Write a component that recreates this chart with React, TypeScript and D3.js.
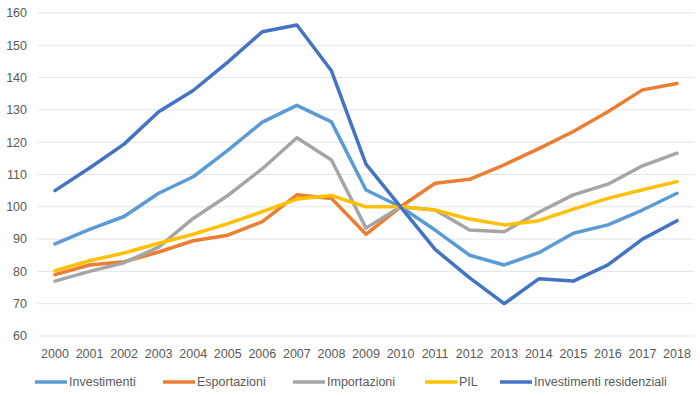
import React from 'react';
import * as d3 from 'd3';

// years on the x axis
const years = ['2000', '2001', '2002', '2003', '2004', '2005', '2006', '2007', '2008', '2009',
  '2010', '2011', '2012', '2013', '2014', '2015', '2016', '2017', '2018'];

const investimenti = [88.5, 93, 97, 104.2, 109.3, 117.5, 126.2, 131.4, 126.3, 105.2,
  100, 92.8, 85, 82, 85.8, 91.8, 94.4, 99, 104.2];
const esportazioni = [79, 82, 83, 86, 89.5, 91.2, 95.4, 103.7, 102.6, 91.5,
  100, 107.3, 108.5, 113, 118, 123.3, 129.4, 136.2, 138.2];
const importazioni = [77, 80, 82.7, 87.5, 96.4, 103.5, 111.8, 121.4, 114.5, 93.4,
  100, 99, 92.8, 92.3, 98.3, 103.7, 107, 112.7, 116.6];
const pil = [80.2, 83.3, 85.7, 88.7, 91.5, 94.8, 98.5, 102.4, 103.5, 100,
  100, 99, 96.2, 94.4, 95.7, 99.3, 102.6, 105.3, 107.8];
const residenziali = [105, 112, 119.4, 129.4, 136, 144.8, 154.2, 156.3, 142.1, 113.2,
  100, 86.8, 78, 70, 77.7, 77, 82, 90, 95.7];

const yTicks = [60, 70, 80, 90, 100, 110, 120, 130, 140, 150, 160];

const series = [
  { name: 'Investimenti', values: investimenti, color: '#5B9BD5' },
  { name: 'Esportazioni', values: esportazioni, color: '#ED7D31' },
  { name: 'Importazioni', values: importazioni, color: '#A5A5A5' },
  { name: 'PIL', values: pil, color: '#FFC000' },
  { name: 'Investimenti residenziali', values: residenziali, color: '#4472C4' },
];

// legend x starts for each entry
const legendX = [35, 163, 293, 425, 500];

const W = 700;
const H = 396;
const textColor = '#595959';
const font = '"Liberation Sans", Arial, sans-serif';

export default function App() {
  const x = d3.scaleBand().domain(years).range([37.7, 694.3]);
  const y = d3.scaleLinear().domain([60, 160]).range([336, 13]);
  const cx = (yr: string) => (x(yr) as number) + x.bandwidth() / 2;

  const line = d3.line<number>()
    .x((_, i) => cx(years[i]))
    .y(d => y(d));

  return (
    <svg width={W} height={H} style={{ position: 'absolute', left: 0, top: 0, background: '#fff' }}
      fontFamily={font}>
      {/* grid */}
      {yTicks.map(t => (
        <line key={t} x1={37.7} x2={694.3} y1={y(t)} y2={y(t)} stroke="#E2E5EA" strokeWidth={1} />
      ))}
      {yTicks.map(t => (
        <text key={'l' + t} x={27} y={y(t)} dy="0.35em" textAnchor="end" fontSize={12.5} fill={textColor}>{t}</text>
      ))}
      {years.map(yr => (
        <text key={yr} x={cx(yr)} y={354} dy="0.35em" textAnchor="middle" fontSize={12.5} fill={textColor}>{yr}</text>
      ))}
      {series.map(s => (
        <path key={s.name} d={line(s.values) || ''} fill="none" stroke={s.color}
          strokeWidth={3.5} strokeLinejoin="round" strokeLinecap="round" />
      ))}
      {/* legend */}
      {series.map((s, i) => (
        <g key={'lg' + s.name} transform={`translate(${legendX[i]},382)`}>
          <line x1={0} x2={32} y1={0} y2={0} stroke={s.color} strokeWidth={3.5} />
          <text x={34} y={0} dy="0.35em" fontSize={12.5} fill={textColor}>{s.name}</text>
        </g>
      ))}
    </svg>
  );
}
